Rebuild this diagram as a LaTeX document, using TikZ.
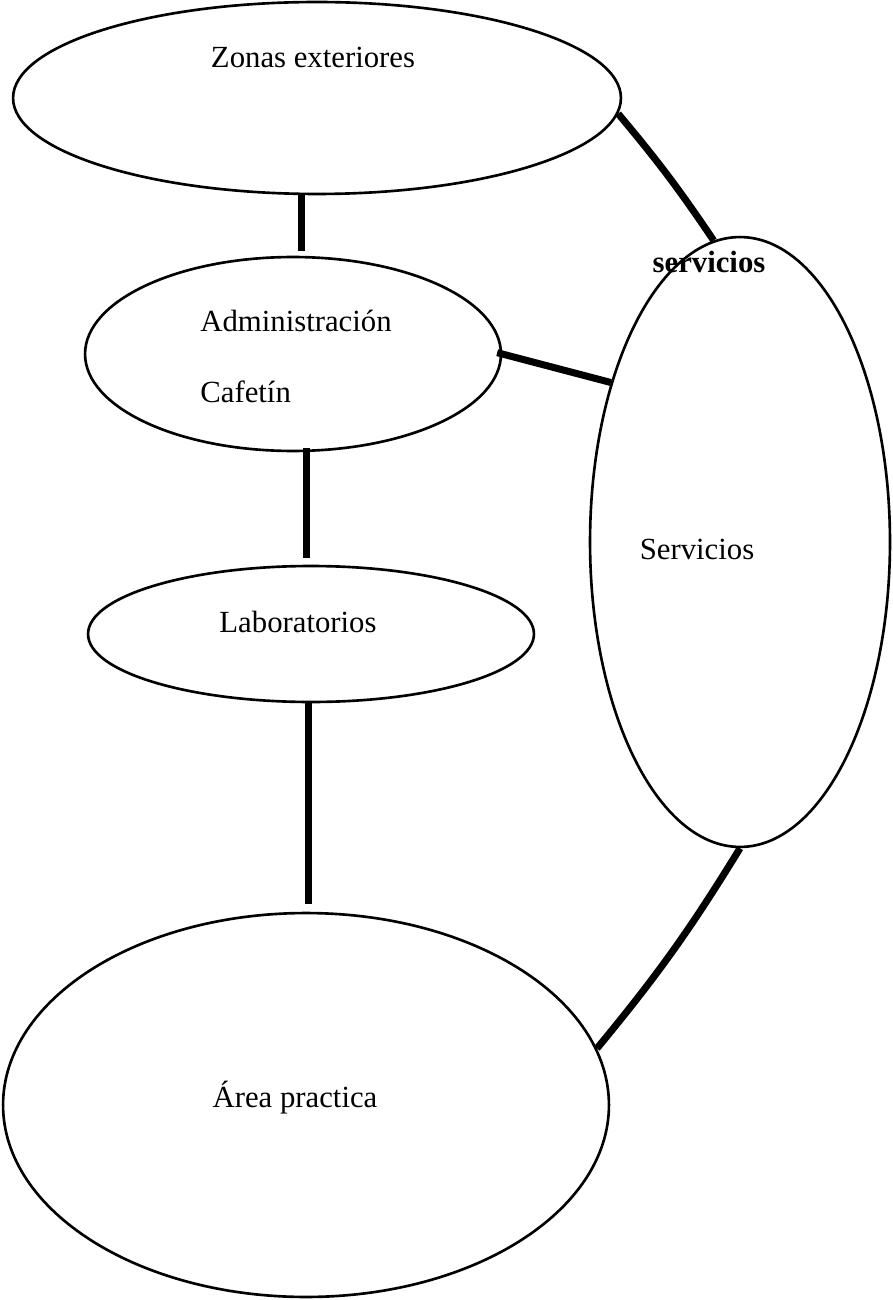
\documentclass[tikz,border=0pt]{standalone}
\usepackage{fontspec}
\setmainfont{Liberation Serif}
\usetikzlibrary{shapes.geometric,calc}

\begin{document}
\begin{tikzpicture}[x=0.02cm,y=-0.02cm,
  zone/.style={ellipse,draw,line width=1.5pt,inner sep=0pt},
  link/.style={line width=4pt},
  zone text/.style={inner sep=0pt,anchor=base,
  font=\fontsize{17.5}{21}\selectfont}]

  \useasboundingbox (0,0) rectangle (892,1300);

  % the five zones
  \node[zone,minimum width=12.16cm,minimum height=3.84cm] (zonas) at (317,98) {};
  \node[zone,minimum width=8.32cm,minimum height=3.88cm] (admin) at (293,354) {};
  \node[zone,minimum width=8.92cm,minimum height=2.72cm] (lab) at (311,634) {};
  \node[zone,minimum width=6.0cm,minimum height=12.2cm] (serv) at (740,542) {};
  \node[zone,minimum width=12.12cm,minimum height=7.68cm] (area) at (306,1105) {};

  \node[zone text] (zonastxt) at (313,68) {Zonas exteriores};
  \node[zone text,anchor=base west] (admintxt) at (200,332) {Administración};
  \node[zone text,anchor=base west] (cafetxt) at (200,402) {Cafetín};
  \node[zone text] (labtxt) at (298,632) {Laboratorios};
  \node[zone text] (servtxt) at (697,559) {Servicios};
  \node[zone text,font=\fontsize{17.5}{21}\selectfont\bfseries] (servtitle) at (709,273) {servicios};
  \node[zone text] (areatxt) at (295,1107) {Área practica};

  % connections
  \draw[link,shorten >=2.8pt] (zonas.-99) -- (zonas.-99 |- admin.north);
  \draw[link,shorten <=-2.5pt,shorten >=4pt] (admin.-82) -- (admin.-82 |- lab.north);
  \draw[link,shorten >=4.5pt] (lab.-92) -- (lab.-92 |- area.north);
  \draw[link] (zonas.-3) to[bend left=3] (serv.95);
  \draw[link,shorten <=-3pt] (admin.east) -- (serv.129);
  \draw[link] (serv.-90) to[bend left=4] (area.11);

\end{tikzpicture}
\end{document}
